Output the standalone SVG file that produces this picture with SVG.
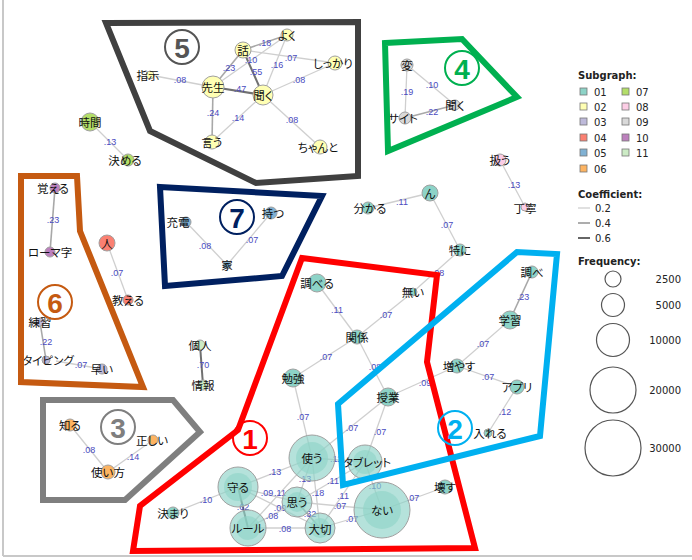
<svg xmlns="http://www.w3.org/2000/svg" width="692" height="560" viewBox="0 0 692 560">
<style>
.e{stroke:#cfcfcf;stroke-width:1.3;fill:none}
.m{stroke:#a8a8a8;stroke-width:1.6;fill:none}
.d{stroke:#707070;stroke-width:2;fill:none}
.l{font-family:"Liberation Sans",Arial,sans-serif;font-size:9px;fill:#4a4ac0;text-anchor:middle;dominant-baseline:central}
.t{font-family:"Noto Sans CJK JP","Noto Sans",sans-serif;font-size:11.5px;fill:#111;text-anchor:middle;dominant-baseline:central;font-feature-settings:"palt"}
.n{stroke:#a0a0a0;stroke-width:1}
.c01{fill:#8dd3c7}.c02{fill:#ffffb3}.c03{fill:#bebada}.c04{fill:#fb8072}.c05{fill:#80b1d3}.c06{fill:#fdb462}.c07{fill:#b3de69}.c08{fill:#fccde5}.c09{fill:#d9d9d9}.c10{fill:#bc80bd}.c11{fill:#ccebc5}
.big{fill:#8dd3c7;fill-opacity:0.65}
.inner{fill:#8dd3c7;fill-opacity:0.6;stroke:none}
.poly{fill:none;stroke-width:6;stroke-linejoin:miter}
.cn{fill:none;stroke-width:2}
.cd{font-family:"Liberation Sans",Arial,sans-serif;font-size:28px;font-weight:bold;text-anchor:middle;dominant-baseline:central}
.lg{font-family:"DejaVu Sans",Verdana,sans-serif;font-size:10px;fill:#222}
.lgb{font-family:"DejaVu Sans",Verdana,sans-serif;font-size:10px;font-weight:bold;fill:#222}
.sq{stroke:#777;stroke-width:0.8}
.fc{fill:none;stroke:#555;stroke-width:1.2}
</style>
<rect width="692" height="560" fill="#fff"/>
<line x1="3" y1="0" x2="3" y2="556" stroke="#c8c8c8" stroke-width="2"/>
<line x1="3" y1="556" x2="692" y2="556" stroke="#c8c8c8" stroke-width="2"/>

<g id="connectors">
<line class="m" x1="243" y1="50" x2="287" y2="35"/><text class="l" x="265" y="43">.18</text>
<line class="d" x1="243" y1="50" x2="263" y2="95"/><text class="l" x="256" y="72">.55</text>
<line class="m" x1="243" y1="50" x2="213" y2="87"/><text class="l" x="229" y="68">.23</text>
<line class="e" x1="243" y1="50" x2="335" y2="63"/><text class="l" x="291" y="58">.07</text>
<line class="e" x1="213" y1="87" x2="287" y2="35"/><text class="l" x="251" y="60">.10</text>
<line class="e" x1="287" y1="35" x2="263" y2="95"/><text class="l" x="277" y="65">.16</text>
<line class="d" x1="213" y1="87" x2="263" y2="95"/><text class="l" x="240" y="89">.47</text>
<line class="e" x1="150" y1="75" x2="213" y2="87"/><text class="l" x="180" y="80">.08</text>
<line class="e" x1="263" y1="95" x2="335" y2="63"/><text class="l" x="299" y="80">.08</text>
<line class="m" x1="213" y1="87" x2="212" y2="142"/><text class="l" x="213" y="113">.24</text>
<line class="e" x1="263" y1="95" x2="212" y2="142"/><text class="l" x="238" y="118">.14</text>
<line class="e" x1="263" y1="95" x2="320" y2="147"/><text class="l" x="292" y="120">.08</text>
<line class="e" x1="90" y1="122" x2="128" y2="160"/><text class="l" x="110" y="142">.13</text>
<line class="e" x1="407" y1="65" x2="405" y2="118"/><text class="l" x="407" y="92">.19</text>
<line class="e" x1="407" y1="65" x2="455" y2="105"/><text class="l" x="432" y="85">.10</text>
<line class="m" x1="405" y1="118" x2="455" y2="105"/><text class="l" x="432" y="112">.22</text>
<line class="e" x1="500" y1="160" x2="525" y2="207"/><text class="l" x="514" y="185">.13</text>
<line class="m" x1="55" y1="188" x2="50" y2="252"/><text class="l" x="53" y="220">.23</text>
<line class="m" x1="40" y1="322" x2="46" y2="360"/><text class="l" x="46" y="342">.22</text>
<line class="e" x1="56" y1="361" x2="102" y2="369"/><text class="l" x="81" y="365">.07</text>
<line class="e" x1="107" y1="243" x2="128" y2="300"/><text class="l" x="117" y="273">.07</text>
<line class="e" x1="186" y1="222" x2="227" y2="265"/><text class="l" x="205" y="246">.08</text>
<line class="e" x1="271" y1="213" x2="227" y2="265"/><text class="l" x="252" y="240">.07</text>
<line class="e" x1="368" y1="208" x2="430" y2="193"/><text class="l" x="402" y="202">.11</text>
<line class="e" x1="430" y1="193" x2="460" y2="250"/><text class="l" x="447" y="225">.07</text>
<line class="e" x1="460" y1="250" x2="413" y2="292"/><text class="l" x="438" y="273">.08</text>
<line class="d" x1="200" y1="345" x2="203" y2="385"/><text class="l" x="203" y="365">.70</text>
<line class="e" x1="70" y1="425" x2="108" y2="472"/><text class="l" x="89" y="450">.08</text>
<line class="e" x1="108" y1="472" x2="153" y2="440"/><text class="l" x="133" y="457">.14</text>
<line class="e" x1="317" y1="283" x2="357" y2="337"/><text class="l" x="337" y="310">.11</text>
<line class="e" x1="413" y1="292" x2="357" y2="337"/><text class="l" x="386" y="315">.07</text>
<line class="e" x1="357" y1="337" x2="293" y2="378"/><text class="l" x="326" y="357">.07</text>
<line class="e" x1="357" y1="337" x2="388" y2="397"/><text class="l" x="375" y="367">.08</text>
<line class="e" x1="388" y1="397" x2="457" y2="366"/><text class="l" x="425" y="383">.09</text>
<line class="e" x1="293" y1="378" x2="312" y2="458"/><text class="l" x="303" y="417">.07</text>
<line class="m" x1="532" y1="272" x2="510" y2="320"/><text class="l" x="523" y="297">.23</text>
<line class="e" x1="510" y1="320" x2="457" y2="366"/><text class="l" x="483" y="344">.07</text>
<line class="e" x1="457" y1="366" x2="517" y2="387"/><text class="l" x="488" y="377">.07</text>
<line class="e" x1="517" y1="387" x2="488" y2="433"/><text class="l" x="505" y="412">.12</text>
<line class="e" x1="388" y1="397" x2="312" y2="458"/><text class="l" x="352" y="428">.07</text>
<line class="e" x1="388" y1="397" x2="365" y2="462"/><text class="l" x="380" y="432">.07</text>
<line class="e" x1="312" y1="458" x2="238" y2="487"/><text class="l" x="275" y="472">.13</text>
<line class="e" x1="312" y1="458" x2="297" y2="502"/><text class="l" x="305" y="479">.13</text>
<line class="e" x1="238" y1="487" x2="297" y2="502"/><text class="l" x="267" y="493">.09</text>
<line class="e" x1="248" y1="528" x2="312" y2="458"/><text class="l" x="280" y="493">.11</text>
<line class="e" x1="238" y1="487" x2="320" y2="528"/><text class="l" x="280" y="508">.09</text>
<line class="d" x1="238" y1="487" x2="248" y2="528"/><text class="l" x="243" y="507">.62</text>
<line class="e" x1="248" y1="528" x2="297" y2="502"/><text class="l" x="272" y="516">.08</text>
<line class="e" x1="248" y1="528" x2="320" y2="528"/><text class="l" x="285" y="529">.08</text>
<line class="e" x1="173" y1="513" x2="238" y2="487"/><text class="l" x="206" y="500">.10</text>
<line class="m" x1="297" y1="502" x2="320" y2="528"/><text class="l" x="310" y="514">.32</text>
<line class="e" x1="312" y1="458" x2="320" y2="528"/><text class="l" x="318" y="493">.18</text>
<line class="e" x1="312" y1="458" x2="365" y2="462"/><text class="l" x="336" y="459">.11</text>
<line class="e" x1="297" y1="502" x2="365" y2="462"/><text class="l" x="333" y="481">.11</text>
<line class="e" x1="320" y1="528" x2="365" y2="462"/><text class="l" x="343" y="496">.11</text>
<line class="e" x1="365" y1="462" x2="382" y2="510"/><text class="l" x="375" y="486">.10</text>
<line class="e" x1="297" y1="502" x2="382" y2="510"/><text class="l" x="340" y="506">.07</text>
<line class="e" x1="320" y1="528" x2="382" y2="510"/><text class="l" x="352" y="519">.07</text>
<line class="e" x1="382" y1="510" x2="445" y2="487"/><text class="l" x="413" y="498">.07</text>
</g>

<g id="n-hanashi"><circle class="n c02" cx="243" cy="50" r="8"/><text class="t" x="243" y="50">話</text></g>
<g id="n-yoku"><circle class="n c02" cx="287" cy="35" r="6"/><text class="t" x="287" y="35">よく</text></g>
<g id="n-shikkari"><circle class="n c02" cx="335" cy="63" r="7"/><text class="t" x="333" y="63">しっかり</text></g>
<g id="n-sensei"><circle class="n c02" cx="213" cy="87" r="11"/><text class="t" x="213" y="87">先生</text></g>
<g id="n-kiku"><circle class="n c02" cx="263" cy="95" r="10"/><text class="t" x="263" y="95">聞く</text></g>
<g id="n-shiji"><circle class="n c02" cx="150" cy="75" r="4"/><text class="t" x="148" y="75">指示</text></g>
<g id="n-iu"><circle class="n c02" cx="212" cy="142" r="7"/><text class="t" x="212" y="142">言う</text></g>
<g id="n-chanto"><circle class="n c02" cx="320" cy="147" r="7"/><text class="t" x="318" y="147">ちゃんと</text></g>
<g id="n-jikan"><circle class="n c07" cx="90" cy="122" r="9"/><text class="t" x="90" y="122">時間</text></g>
<g id="n-kimeru"><circle class="n c07" cx="128" cy="160" r="6"/><text class="t" x="125" y="160">決める</text></g>
<g id="n-hen"><circle class="n c09" cx="407" cy="65" r="6"/><text class="t" x="407" y="65">変</text></g>
<g id="n-kiku2"><circle class="n c09" cx="455" cy="105" r="5"/><text class="t" x="455" y="105">聞く</text></g>
<g id="n-site"><circle class="n c09" cx="405" cy="118" r="6"/><text class="t" x="403" y="118">サイト</text></g>
<g id="n-atsukau"><circle class="n c08" cx="500" cy="160" r="6"/><text class="t" x="500" y="160">扱う</text></g>
<g id="n-teinei"><circle class="n c08" cx="525" cy="207" r="4"/><text class="t" x="525" y="208">丁寧</text></g>
<g id="n-oboeru"><circle class="n c10" cx="55" cy="188" r="5"/><text class="t" x="53" y="188">覚える</text></g>
<g id="n-romaji"><circle class="n c10" cx="50" cy="252" r="5"/><text class="t" x="50" y="252">ローマ字</text></g>
<g id="n-renshu"><circle class="n c03" cx="40" cy="322" r="4"/><text class="t" x="40" y="322">練習</text></g>
<g id="n-typing"><circle class="n c03" cx="46" cy="360" r="4"/><text class="t" x="48" y="360">タイピング</text></g>
<g id="n-hayai"><circle class="n c03" cx="102" cy="369" r="5"/><text class="t" x="102" y="369">早い</text></g>
<g id="n-hito"><circle class="n c04" cx="107" cy="243" r="8"/><text class="t" x="107" y="243">人</text></g>
<g id="n-oshieru"><circle class="n c04" cx="128" cy="300" r="5"/><text class="t" x="128" y="300">教える</text></g>
<g id="n-juden"><circle class="n c05" cx="186" cy="222" r="5"/><text class="t" x="178" y="222">充電</text></g>
<g id="n-motsu"><circle class="n c05" cx="271" cy="213" r="6"/><text class="t" x="273" y="213">持つ</text></g>
<g id="n-ie"><circle class="n c05" cx="227" cy="265" r="4"/><text class="t" x="227" y="265">家</text></g>
<g id="n-wakaru"><circle class="n c01" cx="368" cy="208" r="6"/><text class="t" x="370" y="208">分かる</text></g>
<g id="n-n"><circle class="n c01" cx="430" cy="193" r="8"/><text class="t" x="430" y="193">ん</text></g>
<g id="n-tokuni"><circle class="n c01" cx="460" cy="250" r="6"/><text class="t" x="460" y="250">特に</text></g>
<g id="n-kojin"><circle class="n c11" cx="200" cy="345" r="5"/><text class="t" x="200" y="345">個人</text></g>
<g id="n-joho"><circle class="n c11" cx="203" cy="385" r="5"/><text class="t" x="203" y="385">情報</text></g>
<g id="n-shiru"><circle class="n c06" cx="70" cy="425" r="6"/><text class="t" x="70" y="425">知る</text></g>
<g id="n-tadashii"><circle class="n c06" cx="153" cy="440" r="5"/><text class="t" x="152" y="440">正しい</text></g>
<g id="n-tsukaikata"><circle class="n c06" cx="108" cy="472" r="7"/><text class="t" x="108" y="472">使い方</text></g>
<g id="n-shiraberu"><circle class="n c01" cx="317" cy="283" r="9"/><text class="t" x="317" y="283">調べる</text></g>
<g id="n-nai2"><circle class="n c01" cx="413" cy="292" r="4"/><text class="t" x="413" y="292">無い</text></g>
<g id="n-kankei"><circle class="n c01" cx="357" cy="337" r="7"/><text class="t" x="357" y="337">関係</text></g>
<g id="n-benkyo"><circle class="n c01" cx="293" cy="378" r="9"/><text class="t" x="293" y="378">勉強</text></g>
<g id="n-jugyo"><circle class="n c01" cx="388" cy="397" r="9"/><text class="t" x="388" y="397">授業</text></g>
<g id="n-fuyasu"><circle class="n c01" cx="457" cy="366" r="7"/><text class="t" x="459" y="366">増やす</text></g>
<g id="n-gakushu"><circle class="n c01" cx="510" cy="320" r="9"/><text class="t" x="510" y="320">学習</text></g>
<g id="n-shirabe"><circle class="n c01" cx="532" cy="272" r="6"/><text class="t" x="532" y="272">調べ</text></g>
<g id="n-apuri"><circle class="n c01" cx="517" cy="387" r="7"/><text class="t" x="517" y="387">アプリ</text></g>
<g id="n-ireru"><circle class="n c01" cx="488" cy="433" r="4"/><text class="t" x="490" y="433">入れる</text></g>
<g id="n-tsukau"><circle class="n big" cx="312" cy="458" r="23"/><circle class="inner" cx="312" cy="458" r="16"/><text class="t" x="312" y="458">使う</text></g>
<g id="n-tablet"><circle class="n big" cx="365" cy="462" r="17"/><circle class="inner" cx="365" cy="462" r="12"/><text class="t" x="367" y="462">タブレット</text></g>
<g id="n-nai"><circle class="n big" cx="382" cy="510" r="28"/><circle class="inner" cx="382" cy="510" r="19"/><text class="t" x="382" y="510">ない</text></g>
<g id="n-kowasu"><circle class="n c01" cx="445" cy="487" r="7"/><text class="t" x="445" y="487">壊す</text></g>
<g id="n-omou"><circle class="n big" cx="297" cy="502" r="15"/><circle class="inner" cx="297" cy="502" r="10"/><text class="t" x="297" y="502">思う</text></g>
<g id="n-taisetsu"><circle class="n big" cx="320" cy="528" r="15"/><circle class="inner" cx="320" cy="528" r="10"/><text class="t" x="320" y="529">大切</text></g>
<g id="n-mamoru"><circle class="n big" cx="238" cy="487" r="20"/><circle class="inner" cx="238" cy="487" r="14"/><text class="t" x="238" y="487">守る</text></g>
<g id="n-rule"><circle class="n big" cx="248" cy="528" r="18"/><circle class="inner" cx="248" cy="528" r="12"/><text class="t" x="248" y="528">ルール</text></g>
<g id="n-kimari"><circle class="n c01" cx="173" cy="513" r="6"/><text class="t" x="173" y="513">決まり</text></g>

<g id="sg5"><polygon class="poly" stroke="#404040" points="106,23 358,22 358,176 256,183 150,131"/><circle class="cn" stroke="#555" cx="182" cy="47" r="17"/><text class="cd" fill="#555" x="182" y="48">5</text></g>
<g id="sg4"><polygon class="poly" stroke="#00b050" points="385,43 462,39 517,97 388,151"/><circle class="cn" stroke="#00b050" cx="462" cy="68" r="17"/><text class="cd" fill="#00b050" x="462" y="69">4</text></g>
<g id="sg6"><polygon class="poly" stroke="#c55a11" points="21,176 77,176 80,231 143,387 21,382"/><circle class="cn" stroke="#c55a11" cx="55" cy="302" r="17"/><text class="cd" fill="#c55a11" x="55" y="303">6</text></g>
<g id="sg7"><polygon class="poly" stroke="#002060" points="160,187 322,196 282,276 165,286"/><circle class="cn" stroke="#002060" cx="237" cy="217" r="17"/><text class="cd" fill="#002060" x="237" y="218">7</text></g>
<g id="sg3"><polygon class="poly" stroke="#7f7f7f" points="43,400 173,400 200,432 125,500 43,500"/><circle class="cn" stroke="#7f7f7f" cx="118" cy="427" r="17"/><text class="cd" fill="#7f7f7f" x="118" y="428">3</text></g>
<g id="sg1"><polygon class="poly" stroke="#ff0000" points="302,258 437,275 427,362 475,548 133,551 140,506 238,430"/><circle class="cn" stroke="#ff0000" cx="250" cy="438" r="17"/><text class="cd" fill="#ff0000" x="250" y="439">1</text></g>
<g id="sg2"><polygon class="poly" stroke="#00b0f0" points="338,404 517,252 557,254 540,436 343,485"/><circle class="cn" stroke="#00b0f0" cx="455" cy="428" r="17"/><text class="cd" fill="#00b0f0" x="455" y="429">2</text></g>

<g id="legend">
<text class="lgb" x="578" y="79">Subgraph:</text>
<rect class="sq c01" x="580" y="88" width="7" height="7"/><text class="lg" x="594" y="96">01</text>
<rect class="sq c02" x="580" y="103" width="7" height="7"/><text class="lg" x="594" y="111">02</text>
<rect class="sq c03" x="580" y="118" width="7" height="7"/><text class="lg" x="594" y="126">03</text>
<rect class="sq c04" x="580" y="134" width="7" height="7"/><text class="lg" x="594" y="142">04</text>
<rect class="sq c05" x="580" y="149" width="7" height="7"/><text class="lg" x="594" y="157">05</text>
<rect class="sq c06" x="580" y="165" width="7" height="7"/><text class="lg" x="594" y="173">06</text>
<rect class="sq c07" x="622" y="88" width="7" height="7"/><text class="lg" x="636" y="96">07</text>
<rect class="sq c08" x="622" y="103" width="7" height="7"/><text class="lg" x="636" y="111">08</text>
<rect class="sq c09" x="622" y="118" width="7" height="7"/><text class="lg" x="636" y="126">09</text>
<rect class="sq c10" x="622" y="134" width="7" height="7"/><text class="lg" x="636" y="142">10</text>
<rect class="sq c11" x="622" y="149" width="7" height="7"/><text class="lg" x="636" y="157">11</text>
<text class="lgb" x="578" y="198">Coefficient:</text>
<line x1="578" y1="208" x2="590" y2="208" stroke="#cfcfcf" stroke-width="1.3"/><text class="lg" x="595" y="212">0.2</text>
<line x1="578" y1="223" x2="590" y2="223" stroke="#999" stroke-width="1.6"/><text class="lg" x="595" y="227">0.4</text>
<line x1="578" y1="238" x2="590" y2="238" stroke="#666" stroke-width="2"/><text class="lg" x="595" y="242">0.6</text>
<text class="lgb" x="578" y="265">Frequency:</text>
<circle class="fc" cx="613" cy="279" r="8"/><text class="lg" x="681" y="283" text-anchor="end">2500</text>
<circle class="fc" cx="613" cy="305" r="11.5"/><text class="lg" x="681" y="309" text-anchor="end">5000</text>
<circle class="fc" cx="613" cy="340" r="16.5"/><text class="lg" x="681" y="344" text-anchor="end">10000</text>
<circle class="fc" cx="613" cy="390" r="23"/><text class="lg" x="681" y="394" text-anchor="end">20000</text>
<circle class="fc" cx="613" cy="448" r="28"/><text class="lg" x="681" y="452" text-anchor="end">30000</text>
</g>
</svg>
